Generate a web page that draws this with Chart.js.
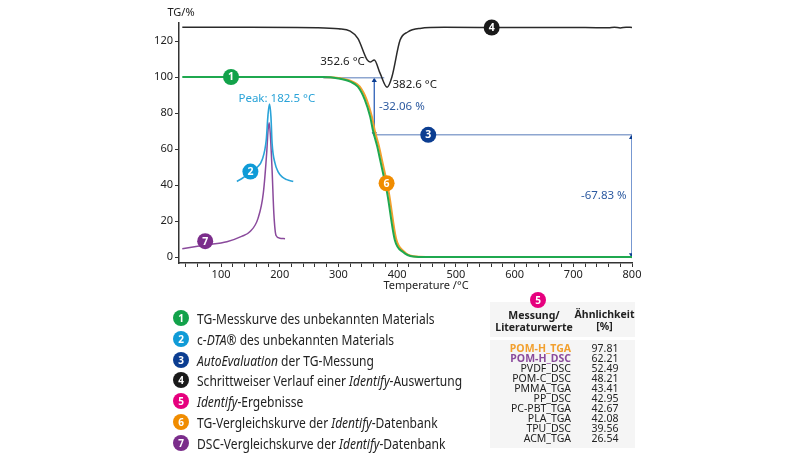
<!DOCTYPE html>
<html lang="de">
<head>
<meta charset="utf-8">
<title>TG Identify</title>
<script src="https://cdn.jsdelivr.net/npm/chart.js@4/dist/chart.umd.min.js"></script>
<style>
  html, body { margin: 0; padding: 0; background: #fff; }
  #stage { position: relative; width: 800px; height: 458px; overflow: hidden; font-family: "Noto Sans", sans-serif; color: #222; }
  #chart { position: absolute; left: 0; top: 0; }
  .key-row { position: absolute; left: 173px; height: 18px; display: flex; align-items: center; white-space: nowrap; }
  .dot { width: 16px; height: 16px; border-radius: 50%; color: #fff; font-size: 10px; font-weight: 700; line-height: 16px; text-align: center; flex: none; }
  .key-text { display: inline-block; margin-left: 8px; font-size: 14.5px; transform: scaleX(0.83); transform-origin: left center; }
  #panel-head, #panel-body { position: absolute; left: 490px; width: 145px; background: #f5f5f5; }
  #panel-head { top: 302px; height: 35px; }
  #panel-body { top: 340px; height: 108px; }
  .head { position: absolute; font-size: 10.5px; font-weight: 700; line-height: 12px; text-align: center; color: #222; }
  #badge5 { position: absolute; left: 530px; top: 292px; }
  .res-row { position: absolute; left: 490px; width: 145px; height: 10px; font-size: 10.5px; line-height: 10px; }
  .res-name { position: absolute; right: 64px; white-space: nowrap; }
  .res-val { position: absolute; left: 100px; width: 30px; text-align: center; }
</style>
</head>
<body>
<div id="stage">
  <canvas id="chart" width="800" height="458"></canvas>
  <div id="panel-head"></div>
  <div id="panel-body"></div>
  <div id="badge5" class="dot" style="background:#e6007e">5</div>
  <div class="head" style="left:490px;width:88px;top:309px">Messung/<br>Literaturwerte</div>
  <div class="head" style="left:574px;width:61px;top:308px">Ähnlichkeit<br>[%]</div>
  <div id="results"></div>
  <div id="key"></div>
</div>
<script>
// curves (x in °C, y in %)
const tgTemp = [34, 100, 200, 274, 300, 320, 333, 345, 354, 359, 366, 371, 383, 396, 410, 427, 450, 600, 800];
const tgValue = [100, 100, 100, 100, 99.2, 97.4, 94.6, 87.3, 78, 70, 61.5, 54, 35.5, 9.5, 2.8, 0.3, 0, 0, 0];
const refTemp = [274, 300, 323, 336, 348, 357, 362, 369, 374, 386, 398, 412, 428, 450, 800];
const refValue = [100, 99.4, 97.6, 94.8, 87.5, 78, 70, 61.5, 54, 35.5, 10.5, 3, 0.4, 0.1, 0];
const dtaTemp = [127, 135, 150, 162, 170, 177, 180, 182.5, 185, 187, 192, 197, 204, 212, 223];
const dtaValue = [42, 43.5, 47, 50, 54, 65, 79, 85, 78, 63, 52, 47.5, 44.5, 43, 42];
const dscTemp = [34, 73, 110, 135, 149, 163, 172, 178, 180, 182, 184, 187, 190, 193.7, 200, 209];
const dscValue = [4.6, 6.7, 8.5, 11.5, 14, 21.5, 35.5, 59, 70, 74.6, 68, 48, 24, 12, 10.5, 10.2];
const stepTemp = [34, 150, 263, 300, 320, 333, 349, 354, 361, 371, 383, 391, 405, 418, 439, 480, 600, 720, 760, 770, 780, 790, 800];
const stepValue = [127.6, 127.6, 127.4, 126.8, 125.5, 121.5, 109.5, 108.3, 109.5, 102, 94.3, 100, 120.5, 125, 127, 127.6, 127.5, 127.5, 127.3, 127.7, 127.2, 127.7, 127.5];

const evalTopTemp = [274, 378];
const evalTopValue = [99.6, 99.6];
const evalDropTemp = [361, 361];
const evalDropValue = [98, 68.5];
const evalMidTemp = [361, 800];
const evalMidValue = [67.94, 67.94];
const evalRestTemp = [800, 800];
const evalRestValue = [66.5, 1.2];

const xLabelEvery = 100;
const xMinorStep = 20;
const yStep = 20;

const badgeText = ['1', '2', '3', '4', '6', '7'];
const badgeTemp = [117, 150, 453, 561, 382, 73];
const badgeValue = [100, 47.5, 67.9, 127.5, 41, 8.8];
const badgeColor = ['#12a24a', '#0f9bd7', '#0b3d91', '#1a1a1a', '#f08c00', '#7b2d8b'];

const noteText = ['Peak: 182.5 °C', '352.6 °C', '382.6 °C', '-32.06 %', '-67.83 %'];
const noteTemp = [195, 307, 430, 408, 752];
const noteValue = [88, 108.5, 95.5, 83.5, 34];
const noteColor = ['#2aa3d8', '#222', '#222', '#2c5aa0', '#2c5aa0'];

const keyText = [
  'TG-Messkurve des unbekannten Materials',
  'c-<i>DTA</i>® des unbekannten Materials',
  '<i>AutoEvaluation</i> der TG-Messung',
  'Schrittweiser Verlauf einer <i>Identify</i>-Auswertung',
  '<i>Identify</i>-Ergebnisse',
  'TG-Vergleichskurve der <i>Identify</i>-Datenbank',
  'DSC-Vergleichskurve der <i>Identify</i>-Datenbank',
];
const keyColor = ['#12a24a', '#0f9bd7', '#0b3d91', '#1a1a1a', '#e6007e', '#f08c00', '#7b2d8b'];
const resultNames = ['POM-H_TGA', 'POM-H_DSC', 'PVDF_DSC', 'POM-C_DSC', 'PMMA_TGA', 'PP_DSC', 'PC-PBT_TGA', 'PLA_TGA', 'TPU_DSC', 'ACM_TGA'];
const resultValues = ['97.81', '62.21', '52.49', '48.21', '43.41', '42.95', '42.67', '42.08', '39.56', '26.54'];

function zip(xs, ys) {
  return xs.map((x, i) => ({ x, y: ys[i] }));
}

function curve(label, xs, ys, color, width) {
  return {
    label, data: zip(xs, ys), borderColor: color, borderWidth: width,
    pointRadius: 0, showLine: true, cubicInterpolationMode: 'monotone',
  };
}

function evalLine(label, xs, ys, color, radius, rotation) {
  return {
    label, data: zip(xs, ys), borderColor: color, borderWidth: 1.3, showLine: true,
    pointStyle: 'triangle', pointRadius: radius, pointRotation: rotation,
    pointBackgroundColor: '#0b3d91', pointBorderColor: '#0b3d91', pointBorderWidth: 0,
  };
}

const annotations = {
  id: 'annotations',
  afterDatasetsDraw(chart) {
    const { ctx, scales: { x, y } } = chart;
    ctx.save();
    ctx.textBaseline = 'middle';
    ctx.textAlign = 'center';
    ctx.font = '11.5px "Noto Sans", sans-serif';
    noteText.forEach((text, i) => {
      ctx.fillStyle = noteColor[i];
      ctx.fillText(text, x.getPixelForValue(noteTemp[i]), y.getPixelForValue(noteValue[i]));
    });
    badgeText.forEach((text, i) => {
      const px = x.getPixelForValue(badgeTemp[i]);
      const py = y.getPixelForValue(badgeValue[i]);
      ctx.beginPath();
      ctx.arc(px, py, 8, 0, Math.PI * 2);
      ctx.fillStyle = badgeColor[i];
      ctx.fill();
      ctx.fillStyle = '#fff';
      ctx.font = 'bold 10.5px "Noto Sans", sans-serif';
      ctx.fillText(text, px, py + 0.5);
    });
    ctx.fillStyle = '#222';
    ctx.font = '11px "Noto Sans", sans-serif';
    ctx.fillText('TG/%', 181, 13);
    ctx.fillText('Temperature /°C', 426, 286);
    ctx.restore();
  },
};

new Chart(document.getElementById('chart'), {
  type: 'scatter',
  data: {
    datasets: [
      curve('TG', tgTemp, tgValue, '#1fa84f', 2),
      curve('TG Vergleich', refTemp, refValue, '#f2a02e', 2),
      curve('c-DTA', dtaTemp, dtaValue, '#2aa3d8', 1.6),
      curve('DSC', dscTemp, dscValue, '#8a4a9c', 1.5),
      curve('Identify', stepTemp, stepValue, '#2a2a2a', 1.5),
      evalLine('Stufe oben', evalTopTemp, evalTopValue, '#8ea6d0', 0, 0),
      evalLine('Stufe 1', evalDropTemp, evalDropValue, '#2f62b8', 3, [0, 180]),
      evalLine('Stufe Mitte', evalMidTemp, evalMidValue, '#8ea6d0', 0, 0),
      evalLine('Stufe 2', evalRestTemp, evalRestValue, '#2f62b8', 3.5, [0, 180]),
    ],
  },
  plugins: [annotations],
  options: {
    responsive: false,
    animation: false,
    layout: { padding: { top: 23, right: 168, left: 0, bottom: 0 } },
    plugins: { legend: { display: false }, tooltip: { enabled: false } },
    scales: {
      x: {
        type: 'linear', min: 28.4, max: 800,
        afterFit(scale) { scale.height = 195; },
        border: { color: '#333', width: 1.5 },
        grid: { drawOnChartArea: false, tickLength: 4, color: '#333' },
        ticks: {
          stepSize: xMinorStep, includeBounds: false, autoSkip: false, maxRotation: 0, padding: 1,
          color: '#222', font: { family: '"Noto Sans", sans-serif', size: 11 },
          callback: (v) => (v % xLabelEvery === 0 ? v : ''),
        },
      },
      y: {
        min: -3.3, max: 130,
        afterFit(scale) { scale.width = 179; },
        border: { color: '#333', width: 1.5 },
        grid: { drawOnChartArea: false, tickLength: 4, color: '#333' },
        ticks: {
          stepSize: yStep, includeBounds: false, padding: 2,
          color: '#222', font: { family: '"Noto Sans", sans-serif', size: 11 },
        },
      },
    },
  },
});

document.getElementById('key').innerHTML = keyText.map((text, i) => `
  <div class="key-row" style="top:${309 + i * 20.8}px">
    <span class="dot" style="background:${keyColor[i]}">${i + 1}</span>
    <span class="key-text">${text}</span>
  </div>`).join('');

document.getElementById('results').innerHTML = resultNames.map((name, i) => {
  const color = i === 0 ? '#f2a02e' : i === 1 ? '#8a4a9c' : '#222';
  return `
  <div class="res-row" style="top:${343 + i * 10}px">
    <span class="res-name" style="color:${color};font-weight:${i < 2 ? 700 : 400}">${name}</span>
    <span class="res-val">${resultValues[i]}</span>
  </div>`;
}).join('');
</script>
</body>
</html>
